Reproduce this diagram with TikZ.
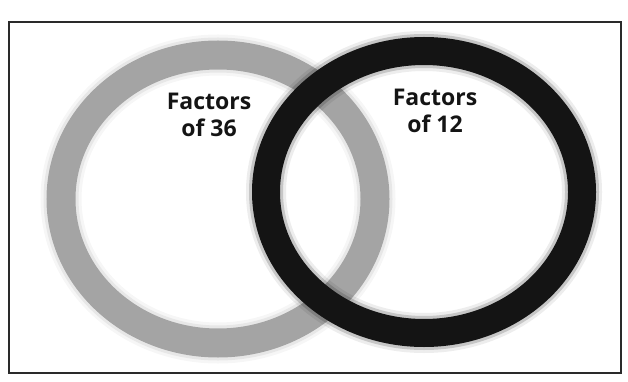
\documentclass[tikz,border=0pt]{standalone}
\usepackage{fontspec}
\setmainfont{Open Sans}
\definecolor{ringgray}{HTML}{A4A4A4}
\definecolor{ringblack}{HTML}{141414}
\definecolor{framecol}{HTML}{2A2A2A}
\begin{document}
\begin{tikzpicture}[x=1pt,y=-1pt,
  lbl/.style={font=\bfseries\fontsize{23}{27}\selectfont, align=center, text=ringblack, inner sep=0pt},
  grayring/.style={draw=ringgray, line width=29pt},
  blackring/.style={draw=ringblack, line width=28pt}]
\useasboundingbox (0,0) rectangle (628,382);
\node[draw=framecol, line width=2pt, minimum width=612pt, minimum height=351pt, inner sep=0pt] (frame) at (315,197.5) {};
% soft halos
\foreach \w/\o in {41/0.10,35/0.18} {
  \draw[draw=ringgray, line width=\w pt, opacity=\o] (218,199) ellipse [x radius=157, y radius=144];
}
\draw[grayring] (218,199) ellipse [x radius=157, y radius=144];
\foreach \w/\o in {40/0.08,34/0.18} {
  \draw[draw=ringblack, line width=\w pt, opacity=\o] (424,192) ellipse [x radius=158, y radius=141];
}
\draw[blackring] (424,192) ellipse [x radius=158, y radius=141];
\node[lbl] (l36) at (209,115) {Factors\\of 36};
\node[lbl] (l12) at (435,111) {Factors\\of 12};
\end{tikzpicture}
\end{document}
